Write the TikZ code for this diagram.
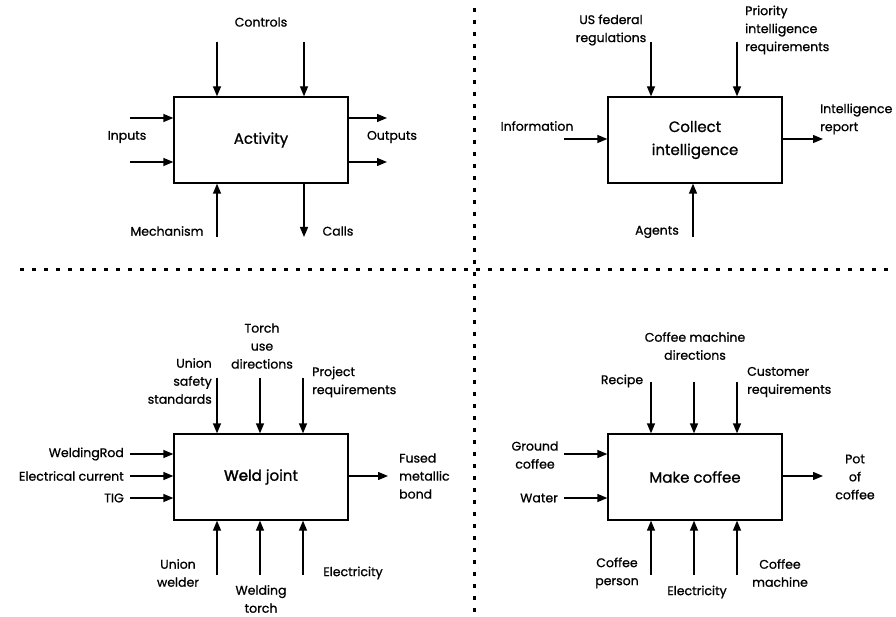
\documentclass[tikz,border=0pt]{standalone}
\usepackage{fontspec}
\setmainfont{Poppins}[FakeBold=0.9]
\newfontfamily\heavyfont{Poppins}[FakeBold=2.2]
\usetikzlibrary{arrows.meta}
\tikzset{
  box/.style={draw, line width=1.3pt, minimum width=174pt, minimum height=86pt,
    font=\fontsize{15}{23}\selectfont, align=center, inner sep=0pt},
  lbl/.style={font=\fontsize{12.5}{18}\selectfont, inner sep=0pt},
  arr/.style={line width=1.3pt, -{Triangle[length=10pt,width=8pt]}},
  sep/.style={line width=3pt, dash pattern=on 4pt off 8pt}
}
\begin{document}
\begin{tikzpicture}[x=1pt,y=-1pt]
\useasboundingbox (0,0) rectangle (896,617);

% quadrant separators
\coordinate (vt) at (474,8);
\coordinate (vb) at (474,617);
\coordinate (hl) at (20,270);
\coordinate (hr) at (896,270);
\draw[sep] (vt) -- (vb);
\draw[sep] (hl) -- (hr);

% ---------- generic activity ----------
\node[box] (A) at (261,140) {Activity};
\node[lbl] (Actl) at (261,22) {Controls};
\coordinate (ac1) at (217,42);
\coordinate (ac2) at (304,42);
\draw[arr] (ac1) -- (ac1 |- A.north);
\draw[arr] (ac2) -- (ac2 |- A.north);
\node[lbl] (Ainl) at (127,137) {Inputs};
\coordinate (ai1) at (130,118);
\coordinate (ai2) at (130,162);
\draw[arr] (ai1) -- (ai1 -| A.west);
\draw[arr] (ai2) -- (ai2 -| A.west);
\node[lbl] (Aoutl) at (392,137) {Outputs};
\coordinate (ao1) at (387,118);
\coordinate (ao2) at (387,162);
\draw[arr] (ao1 -| A.east) -- (ao1);
\draw[arr] (ao2 -| A.east) -- (ao2);
\node[lbl] (Amechl) at (167,231) {Mechanism};
\coordinate (am) at (217,237);
\draw[arr] (am) -- (am |- A.south);
\node[lbl] (Acalll) at (338,231) {Calls};
\coordinate (acall) at (304,237);
\draw[arr] (acall |- A.south) -- (acall);

% ---------- collect intelligence ----------
\node[box] (B) at (695,140) {Collect\\intelligence};
\node[lbl, align=center] (Bus) at (611,30) {US federal\\regulations};
\coordinate (bc1) at (651,42);
\draw[arr] (bc1) -- (bc1 |- B.north);
\node[lbl, align=left, anchor=west] (Bpir) at (745,30) {Priority\\intelligence\\requirements};
\coordinate (bc2) at (737,42);
\draw[arr] (bc2) -- (bc2 |- B.north);
\node[lbl] (Binf) at (537,126) {Information};
\coordinate (bi) at (564,139);
\draw[arr] (bi) -- (bi -| B.west);
\node[lbl, align=left, anchor=west] (Brep) at (820,119) {Intelligence\\report};
\coordinate (bo) at (823,139);
\draw[arr] (bo -| B.east) -- (bo);
\node[lbl] (Bag) at (657,232) {Agents};
\coordinate (bm) at (693,237);
\draw[arr] (bm) -- (bm |- B.south);

% ---------- weld joint ----------
\node[box] (C) at (261,477) {{\heavyfont Weld} joint};
\node[lbl, align=right, anchor=east] (Cuss) at (212,381) {Union\\safety\\standards};
\node[lbl, align=center] (Ctud) at (262,346) {Torch\\use\\directions};
\node[lbl, align=left, anchor=west] (Cpr) at (312,382) {Project\\requirements};
\coordinate (cc1) at (217,378);
\coordinate (cc2) at (260,378);
\coordinate (cc3) at (303,378);
\draw[arr] (cc1) -- (cc1 |- C.north);
\draw[arr] (cc2) -- (cc2 |- C.north);
\draw[arr] (cc3) -- (cc3 |- C.north);
\node[lbl, anchor=east] (Cwr) at (124,454) {WeldingRod};
\node[lbl, anchor=east] (Cec) at (124,476) {Electrical current};
\node[lbl, anchor=east] (Ctig) at (124,498) {TIG};
\coordinate (ci1) at (130,454);
\coordinate (ci2) at (130,476);
\coordinate (ci3) at (130,498);
\draw[arr] (ci1) -- (ci1 -| C.west);
\draw[arr] (ci2) -- (ci2 -| C.west);
\draw[arr] (ci3) -- (ci3 -| C.west);
\node[lbl, align=left, anchor=west] (Cfmb) at (399,476) {Fused\\metallic\\bond};
\coordinate (co) at (388,476);
\draw[arr] (co -| C.east) -- (co);
\coordinate (cm1) at (217,575);
\coordinate (cm2) at (260,575);
\coordinate (cm3) at (303,575);
\draw[arr] (cm1) -- (cm1 |- C.south);
\draw[arr] (cm2) -- (cm2 |- C.south);
\draw[arr] (cm3) -- (cm3 |- C.south);
\node[lbl, align=center] (Cuw) at (178,573) {Union\\welder};
\node[lbl, align=center] (Cwt) at (261,599) {Welding\\torch};
\node[lbl] (Cel) at (353,573) {Electricity};

% ---------- make coffee ----------
\node[box] (D) at (695,477) {Make coffee};
\node[lbl] (Drec) at (622,381) {Recipe};
\node[lbl, align=center] (Dcmd) at (695,346) {Coffee machine\\directions};
\node[lbl, align=left, anchor=west] (Dcr) at (747,382) {Customer\\requirements};
\coordinate (dc1) at (651,382);
\coordinate (dc2) at (694,382);
\coordinate (dc3) at (737,382);
\draw[arr] (dc1) -- (dc1 |- D.north);
\draw[arr] (dc2) -- (dc2 |- D.north);
\draw[arr] (dc3) -- (dc3 |- D.north);
\node[lbl, align=center] (Dgc) at (535,455) {Ground\\coffee};
\node[lbl] (Dw) at (539,498) {Water};
\coordinate (di1) at (564,454);
\coordinate (di2) at (564,498);
\draw[arr] (di1) -- (di1 -| D.west);
\draw[arr] (di2) -- (di2 -| D.west);
\node[lbl, align=center] (Dpot) at (855,477) {Pot\\of\\coffee};
\coordinate (do) at (823,476);
\draw[arr] (do -| D.east) -- (do);
\coordinate (dm1) at (651,575);
\coordinate (dm2) at (694,575);
\coordinate (dm3) at (737,575);
\draw[arr] (dm1) -- (dm1 |- D.south);
\draw[arr] (dm2) -- (dm2 |- D.south);
\draw[arr] (dm3) -- (dm3 |- D.south);
\node[lbl, align=center] (Dcp) at (617,573) {Coffee\\person};
\node[lbl] (Del) at (697,592) {Electricity};
\node[lbl, align=center] (Dcm) at (780,573) {Coffee\\machine};
\end{tikzpicture}
\end{document}
